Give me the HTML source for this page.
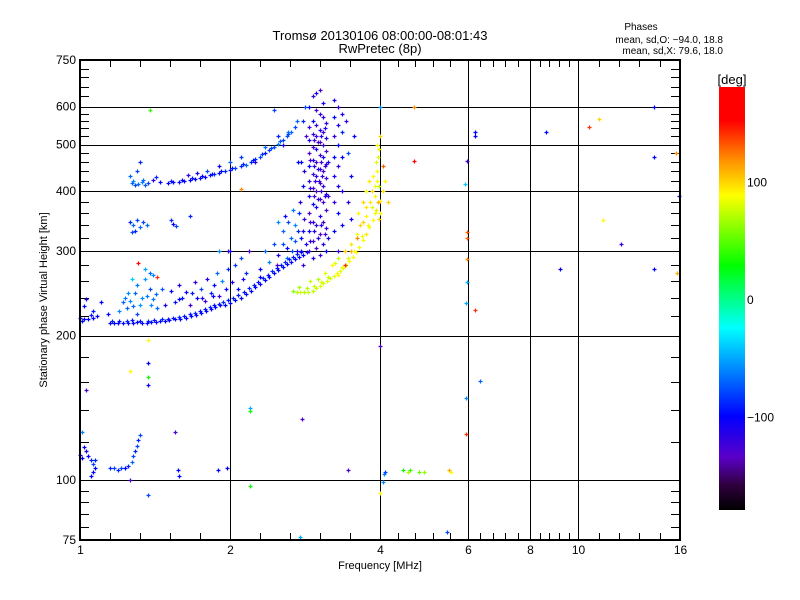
<!DOCTYPE html>
<html><head><meta charset="utf-8"><style>
body{margin:0;background:#fff;}
svg{display:block;font-family:"Liberation Sans","DejaVu Sans",sans-serif;}
</style></head><body>
<svg id="chart" width="800" height="600" viewBox="0 0 800 600">
<defs>
<linearGradient id="cbar" x1="0" y1="1" x2="0" y2="0">
<stop offset="0" stop-color="#000000"/>
<stop offset="0.06" stop-color="#300040"/>
<stop offset="0.125" stop-color="#5a00c8"/>
<stop offset="0.222" stop-color="#0000ff"/>
<stop offset="0.43" stop-color="#00ffff"/>
<stop offset="0.578" stop-color="#00ff00"/>
<stop offset="0.744" stop-color="#ffff00"/>
<stop offset="0.83" stop-color="#ff8c00"/>
<stop offset="0.92" stop-color="#ff0000"/>
<stop offset="1" stop-color="#ff0000"/>
</linearGradient>
</defs>
<g id="grid"></g>
<g id="ticks"></g>
<g id="marks"></g>
<rect x="80" y="60" width="600" height="480" fill="none" stroke="#000" stroke-width="2"/>
<text x="380" y="40" font-size="13" text-anchor="middle">Tromsø 20130106 08:00:00-08:01:43</text>
<text x="380" y="53" font-size="13" text-anchor="middle">RwPretec (8p)</text>
<text x="641" y="30" font-size="10" text-anchor="middle">Phases</text>
<text x="723" y="43" font-size="10" text-anchor="end">mean, sd,O: −94.0, 18.8</text>
<text x="723" y="54" font-size="10" text-anchor="end">mean, sd,X:  79.6, 18.0</text>
<text x="380" y="569" font-size="11" text-anchor="middle">Frequency [MHz]</text>
<text transform="translate(47,300) rotate(-90)" font-size="11" text-anchor="middle">Stationary phase Virtual Height [km]</text>
<rect x="719" y="87" width="26" height="423" fill="url(#cbar)"/>
<text x="732" y="84" font-size="13" text-anchor="middle">[deg]</text>
<g id="cbticks"></g>
</svg>
<script>
// axis tick values
const xMajor = [1, 2, 4, 6, 8, 10, 16];
const yMajor = [100, 200, 300, 400, 500, 600];
const yLabels = [75, 100, 200, 300, 400, 500, 600, 750];
const yMinor = [80, 85, 90, 95, 120, 140, 160, 180, 220, 240, 260, 280, 320, 340, 360, 380, 420, 440, 460, 480, 520, 540, 560, 580, 630, 660, 690, 720];
const cbarLabels = [100, 0, -100];
// data: [frequency MHz, height km, phase deg]
const lowerO = [[1.0,218,-100],[1.02,217,-100],[1.04,216,-100],[1.06,218,-100],[1.08,220,-100],[1.15,212,-100],[1.17,212,-100],[1.19,212,-100],[1.22,212,-100],[1.25,212,-100],[1.28,212,-100],[1.30,213,-100],[1.33,212,-100],[1.36,212,-100],[1.39,213,-100],[1.42,213,-100],[1.45,214,-100],[1.48,214,-100],[1.51,215,-100],[1.55,216,-100],[1.59,217,-100],[1.63,218,-100],[1.67,220,-100],[1.71,221,-100],[1.75,223,-100],[1.79,225,-100],[1.83,227,-100],[1.87,229,-100],[1.91,231,-100],[1.95,232,-100],[2.0,234,-100],[2.05,237,-100],[2.10,240,-100],[2.15,244,-100],[2.20,248,-100],[2.25,252,-100],[2.30,256,-100],[2.35,261,-100],[2.40,265,-100],[2.45,270,-100],[2.50,274,-100],[2.55,278,-100],[2.60,282,-100],[2.65,285,-100],[2.70,289,-100],[2.75,292,-100],[2.80,295,-100],[2.85,298,-100]];
const lowerO2 = [[1.01,214,-95],[1.05,221,-95],[1.16,214,-90],[1.20,214,-95],[1.24,214,-90],[1.27,215,-95],[1.32,214,-95],[1.37,214,-90],[1.41,215,-95],[1.46,216,-90],[1.50,217,-95],[1.54,218,-95],[1.58,219,-90],[1.62,220,-95],[1.66,222,-95],[1.70,223,-90],[1.74,225,-95],[1.78,227,-95],[1.82,229,-90],[1.86,231,-95],[1.90,233,-95],[1.94,235,-90],[1.98,237,-95],[2.03,240,-90],[2.08,243,-95],[2.13,247,-95],[2.18,251,-90],[2.23,255,-95],[2.28,259,-95],[2.33,264,-90],[2.38,268,-95],[2.43,273,-90],[2.48,277,-95],[2.53,281,-95],[2.58,285,-90],[2.63,289,-95],[2.68,292,-95],[2.73,296,-90],[2.78,299,-95]];
const lowerScatter = [[1.22,235,-70],[1.25,245,-60],[1.28,230,-70],[1.3,255,-65],[1.33,240,-60],[1.35,262,-55],[1.38,250,-80],[1.4,238,-65],[1.43,228,-70],[1.46,250,-75],[1.48,232,-110],[1.52,248,-100],[1.55,235,-95],[1.58,255,-110],[1.6,240,-95],[1.63,247,-100],[1.66,232,-125],[1.7,258,-120],[1.72,240,-100],[1.75,250,-80],[1.78,236,-125],[1.8,262,-110],[1.83,245,-90],[1.86,255,-100],[1.88,270,-70],[1.9,242,-120],[1.93,260,-60],[1.96,250,-100],[1.98,275,-90],[2.02,258,-110],[2.05,280,-85],[2.08,250,-100],[2.1,290,-80],[2.12,262,-110],[2.15,270,-90],[2.18,300,-130],[1.02,230,-100],[1.03,238,-110],[1.06,225,-95],[1.1,235,-100],[1.35,275,-50],[1.38,270,-70],[1.4,268,-60],[1.31,283,150],[1.27,262,-40],[1.9,300,-60],[2.0,300,-100],[1.2,225,-60],[1.24,228,-70],[1.3,222,-80],[1.14,222,-100],[1.23,240,-65],[1.26,236,-60],[1.29,245,-70],[1.32,232,-55],[1.36,242,-65],[1.39,232,-60],[1.42,244,-70],[1.58,238,-100],[1.68,245,-95],[1.76,240,-110],[1.85,242,-100]];
const midScatter = [[2.35,300,-70],[2.4,285,-60],[2.45,310,-80],[2.5,295,-110],[2.55,330,-70],[2.6,305,-100],[2.62,345,-80],[2.65,320,-70],[2.7,340,-60],[2.72,300,-110],[2.75,360,-90],[2.78,320,-100],[2.8,280,-120],[2.68,365,-65],[2.58,355,-100],[2.48,280,-125],[2.3,275,-100],[2.8,330,-110],[2.82,350,-120],[2.78,300,-100],[2.84,310,-110],[2.5,345,-60],[2.76,380,-110],[2.8,410,-100],[2.82,440,-110],[2.78,460,-100],[2.84,520,-130],[2.83,600,-80],[2.8,560,-90],[2.74,460,-100],[2.6,290,-70],[2.66,300,-80],[2.7,315,-75],[2.74,330,-90],[2.56,310,-80]];
const upperF = [[1.27,415,-70],[1.29,412,-80],[1.31,414,-70],[1.33,418,-60],[1.35,412,-75],[1.37,416,-80],[1.30,440,-80],[1.32,460,-90],[1.26,430,-70],[1.45,418,-100],[1.5,416,-100],[1.54,417,-100],[1.58,418,-100],[1.62,420,-100],[1.66,422,-100],[1.70,424,-100],[1.74,426,-100],[1.78,428,-105],[1.82,431,-95],[1.86,434,-90],[1.9,437,-100],[1.95,440,-90],[2.0,442,-95],[2.05,446,-80],[2.1,450,-90],[2.15,454,-70],[2.2,460,-90],[2.25,466,-90],[2.3,472,-80],[2.35,480,-95],[2.4,488,-85],[2.45,495,-80],[2.5,502,-60],[2.55,510,-80],[2.6,520,-75],[2.65,532,-70],[2.7,545,-80],[2.72,560,-70],[1.65,432,-120],[1.72,436,-110],[1.8,440,-80],[1.9,450,-100],[2.0,460,-75],[2.1,470,-85],[2.25,460,-110],[2.35,495,-70],[2.5,520,-90],[2.62,530,-65],[2.55,500,-110],[1.42,428,-90],[1.4,422,-120],[1.28,420,-60],[1.34,422,-70],[1.52,420,-95],[1.6,421,-100],[1.68,425,-95],[1.76,429,-100],[1.84,434,-95],[1.92,440,-100],[2.02,446,-95],[2.12,455,-90],[2.22,465,-95],[2.32,478,-85],[2.42,492,-80],[2.52,508,-75],[2.62,525,-80]];
const midCluster = [[1.26,345,-90],[1.28,340,-70],[1.30,348,-80],[1.32,336,-70],[1.29,331,-90],[1.34,345,-80],[1.27,328,-80],[1.36,340,-70],[1.52,348,-90],[1.54,342,-100],[1.56,338,-80],[1.66,355,-90]];
const band = [[2.88,300,-120],[2.88,330,-100],[2.88,360,-130],[2.88,390,-110],[2.88,420,-120],[2.88,450,-100],[2.88,480,-130],[2.88,510,-110],[2.88,545,-120],[2.88,600,-100],[2.93,290,-110],[2.93,315,-130],[2.93,345,-120],[2.93,375,-100],[2.93,405,-130],[2.93,435,-120],[2.93,465,-110],[2.93,495,-130],[2.93,525,-120],[2.93,560,-100],[2.93,630,-120],[2.98,305,-130],[2.98,340,-120],[2.98,370,-110],[2.98,400,-130],[2.98,430,-120],[2.98,460,-130],[2.98,490,-110],[2.98,520,-125],[2.98,550,-120],[2.98,590,-130],[2.98,640,-110],[3.03,295,-120],[3.03,325,-130],[3.03,355,-110],[3.03,385,-125],[3.03,415,-130],[3.03,445,-120],[3.03,475,-125],[3.03,505,-130],[3.03,535,-110],[3.03,580,-120],[3.03,650,-130],[3.08,310,-110],[3.08,345,-125],[3.08,380,-130],[3.08,410,-120],[3.08,440,-130],[3.08,470,-110],[3.08,500,-120],[3.08,530,-130],[3.08,570,-120],[3.08,610,-110],[3.12,300,-100],[3.12,335,-120],[3.12,365,-130],[3.12,395,-115],[3.12,425,-125],[3.12,455,-120],[3.12,485,-130],[3.12,515,-110],[3.12,555,-120],[3.15,320,-110],[3.15,390,-120],[3.15,460,-110],[3.23,330,-100],[3.23,380,-120],[3.23,430,-110],[3.23,470,-100],[3.23,520,-120],[3.23,570,-100],[3.23,620,-110],[3.29,300,-120],[3.29,360,-100],[3.29,410,-110],[3.29,450,-120],[3.29,500,-100],[3.29,550,-110],[3.29,600,-120],[3.35,340,-100],[3.35,400,-110],[3.35,470,-100],[3.35,530,-90],[3.35,580,-110],[3.45,380,-110],[3.5,430,-100],[3.45,480,-80],[3.55,520,-100],[3.5,350,-100],[3.42,560,-120],[2.9,315,-115],[2.9,345,-125],[2.9,405,-115],[2.9,465,-125],[2.95,330,-115],[2.95,390,-125],[2.95,450,-115],[2.95,510,-125],[3.0,320,-115],[3.0,385,-120],[3.0,445,-115],[3.0,505,-125],[3.05,340,-115],[3.05,400,-120],[3.05,460,-125],[3.05,520,-115],[3.1,325,-125],[3.1,390,-115],[3.1,450,-125],[3.1,540,-115],[3.02,420,-125],[2.96,420,-120],[3.06,430,-120]];
const xTrace = [[2.67,248,60],[2.72,247,70],[2.77,246,75],[2.82,246,70],[2.87,247,75],[2.93,248,70],[2.98,251,75],[3.03,254,80],[3.08,257,75],[3.13,260,80],[3.18,263,75],[3.23,266,80],[3.28,270,85],[3.33,272,80],[3.37,276,85],[3.42,281,80],[3.47,286,90],[3.53,291,85],[3.58,298,90],[3.63,306,85],[3.7,316,90],[3.75,326,95],[3.8,336,85],[3.87,348,90],[3.93,365,95],[4.0,382,90],[2.9,260,75],[3.0,262,70],[3.1,270,80],[3.2,280,90],[3.3,290,75],[3.4,300,100],[3.5,310,95],[3.6,325,85],[3.65,340,100],[3.75,355,90],[3.82,380,95],[3.9,410,85],[3.95,440,90],[3.97,470,80],[3.95,500,90],[4.0,520,100],[3.6,320,120],[3.4,280,140],[3.7,345,100],[3.75,370,95],[3.85,400,100],[3.9,360,85],[4.05,400,95],[4.1,420,90],[3.92,460,80],[3.96,380,110],[3.98,350,100],[3.5,300,110],[3.3,268,90],[3.25,283,80],[4.15,380,100],[3.8,420,95],[3.75,400,85],[3.88,430,90],[3.85,370,80],[4.05,450,130],[3.98,410,70],[4.0,360,90],[3.7,380,100],[3.62,360,90],[2.75,252,65],[2.85,251,70],[2.95,254,75],[3.05,259,80],[3.15,265,75],[3.35,278,85],[3.45,290,80],[3.55,300,90],[3.68,322,85],[3.78,340,90],[3.9,390,90],[3.94,420,85],[3.98,490,80]];
const lowLeft = [[1.0,113,-100],[1.02,117,-100],[1.03,115,-110],[1.04,112,-100],[1.05,110,-90],[1.06,108,-80],[1.07,106,-100],[1.06,104,-100],[1.05,102,-100],[1.07,110,-90],[1.01,111,-100],[1.15,106,-90],[1.17,106,-80],[1.19,105,-90],[1.21,106,-80],[1.23,106,-100],[1.25,107,-90],[1.27,109,-70],[1.28,112,-80],[1.29,115,-90],[1.30,118,-80],[1.31,121,-90],[1.32,124,-80]];
const sparse = [[4.67,598,120],[4.67,462,170],[6.2,530,-100],[6.2,520,-100],[5.97,462,-130],[5.95,125,140],[6.35,161,-70],[5.95,148,-60],[5.97,329,130],[5.97,320,130],[5.95,234,-50],[6.2,226,140],[5.93,413,-40],[5.97,289,120],[5.97,258,-50],[4.05,99,-60],[4.08,103,-60],[4.1,104,-80],[4.45,105,30],[4.55,104,70],[4.6,105,40],[4.8,104,50],[4.9,104,60],[5.5,105,110],[5.55,104,90],[4.0,94,90],[5.45,78,-80],[4.0,190,-130],[8.6,530,-100],[10.5,545,140],[11.0,565,100],[14.2,600,-100],[15.7,480,120],[14.2,470,-100],[15.9,390,-100],[11.2,348,90],[12.2,310,-120],[14.2,275,-100],[15.8,270,110],[9.2,275,-100],[1.03,154,-130],[1.01,126,-60],[1.37,196,90],[1.26,169,90],[1.37,175,-100],[1.37,164,30],[1.37,158,-100],[1.55,126,-130],[2.19,141,-50],[2.19,139,30],[2.79,134,-130],[3.45,105,-130],[1.37,93,-80],[2.76,76,-50],[1.57,105,-100],[1.58,102,-100],[1.89,105,-100],[1.97,106,-100],[2.19,97,30],[1.26,100,-130],[1.38,590,40],[2.45,590,-80],[2.1,403,120],[1.98,300,-120],[2.3,265,-100],[1.43,265,140],[4.0,600,-60]];
const seriesList = [lowerO, lowerO2, lowerScatter, midScatter, upperF, midCluster, band, xTrace, lowLeft, sparse];

const X0 = 80, X1 = 680, Y0 = 540, Y1 = 60;
function xScale(f){ return X0 + (X1 - X0) * Math.log(f) / Math.log(16); }
function yScale(h){ return Y0 - (Y0 - Y1) * Math.log10(h / 75); }
const cStops = [[-180,[0,0,0]],[-158,[48,0,64]],[-135,[90,0,200]],[-100,[0,0,255]],[-25,[0,255,255]],[28,[0,255,0]],[88,[255,255,0]],[119,[255,140,0]],[151,[255,0,0]],[180,[255,0,0]]];
function phaseColor(p){
  for (let i = 1; i < cStops.length; i++) {
    if (p <= cStops[i][0]) {
      const a = cStops[i-1], b = cStops[i], t = (p - a[0]) / (b[0] - a[0]);
      const c = a[1].map((v, k) => Math.round(v + (b[1][k] - v) * t));
      return 'rgb(' + c.join(',') + ')';
    }
  }
  return 'rgb(255,0,0)';
}
const NS = 'http://www.w3.org/2000/svg';
function mk(tag, attrs, parent){ const e = document.createElementNS(NS, tag); for (const k in attrs) e.setAttribute(k, attrs[k]); parent.appendChild(e); return e; }
const grid = document.getElementById('grid'), ticks = document.getElementById('ticks'), marks = document.getElementById('marks'), cbt = document.getElementById('cbticks');

xMajor.forEach((v, i) => {
  const x = Math.round(xScale(v)) + 0.5;
  if (i > 0 && i < xMajor.length - 1) {
    const l = mk('line', {x1:x, y1:Y1, x2:x, y2:Y0, stroke:'#000', 'stroke-width':1}, grid);
    
    
  }
  const t = mk('text', {x:x, y:554, 'font-size':12, 'text-anchor':'middle'}, ticks);
  t.textContent = v;
  
  
  if (i < xMajor.length - 1) {
    const a = Math.log(v), b = Math.log(xMajor[i+1]);
    for (let k = 1; k < 5; k++) {
      const xm = Math.round(xScale(Math.exp(a + (b - a) * k / 5))) + 0.5;
      const m1 = mk('line', {x1:xm, y1:Y1, x2:xm, y2:Y1 + 7, stroke:'#000'}, ticks);
      
      
      const m2 = mk('line', {x1:xm, y1:Y0, x2:xm, y2:Y0 - 7, stroke:'#000'}, ticks);
      
      
    }
  }
});
yMajor.forEach(v => {
  const y = Math.round(yScale(v)) + 0.5;
  const l = mk('line', {x1:X0, y1:y, x2:X1, y2:y, stroke:'#000', 'stroke-width':1}, grid);
  
  
});
yLabels.forEach(v => {
  const t = mk('text', {x:76, y:yScale(v) + 4, 'font-size':12, 'text-anchor':'end'}, ticks);
  t.textContent = v;
  
  
});
yMinor.forEach(v => {
  const y = Math.round(yScale(v)) + 0.5;
  const a = mk('line', {x1:X0, y1:y, x2:X0 + 9, y2:y, stroke:'#000'}, ticks);
  
  
  const b = mk('line', {x1:X1, y1:y, x2:X1 - 9, y2:y, stroke:'#000'}, ticks);
  
  
});
cbarLabels.forEach(v => {
  const t = mk('text', {x:747, y:300 - 1.175 * v + 4, 'font-size':12}, cbt);
  t.textContent = v < 0 ? '−' + Math.abs(v) : v;
  
  
});
seriesList.forEach(series => {
  series.forEach(pt => {
    const x = Math.round(xScale(pt[0])), y = Math.round(yScale(pt[1]));
    const p = mk('path', {d:'M' + (x - 1.5) + ' ' + (y + 0.5) + 'h4M' + (x + 0.5) + ' ' + (y - 1.5) + 'v4', stroke:phaseColor(pt[2]), 'stroke-width':1.2, fill:'none'}, marks);
    
    
  });
});
</script>
</body></html>
